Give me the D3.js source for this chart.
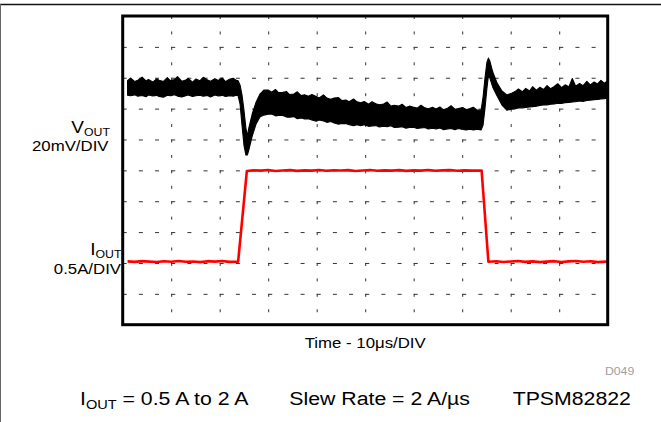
<!DOCTYPE html>
<html>
<head>
<meta charset="utf-8">
<script src="https://cdn.jsdelivr.net/npm/d3@7"></script>
<style>
html,body{margin:0;padding:0;background:#fff;}
svg{display:block;font-family:"Liberation Sans",Arial,Helvetica,sans-serif;}
</style>
</head>
<body>
<svg id="chart" width="661" height="422"></svg>
<script>
// ---- data (time in µs, 10 µs/DIV; VOUT deviation in mV, 20 mV/DIV; IOUT in A, 0.5 A/DIV)
const timeDivs = [0,10,20,30,40,50,60,70,80,90,100];
const levelDivs = [0,1,2,3,4,5,6,7,8,9,10];

const voutT = [
  1,1.6,2.5,3.1,4.0,4.8,5.3,6.2,7.0,7.5,8.4,9.2,9.8,10.7,11.3,12.2,13.0,13.5,14.4,15.1,15.9,16.6,17.5,18.1,19.0,19.7,20.5,21.2,22.0,22.8,23.4,23.8,
  24.2,24.6,25.0,25.4,25.7,26.0,26.7,27.5,28.3,29.1,
  30,30.7,31.5,32.1,33.0,33.8,34.4,35.3,36.0,36.8,37.5,38.3,39.0,39.9,40.5,41.4,42.1,42.9,43.6,44.5,45.2,46.0,46.7,47.6,48.3,49.1,49.8,50.7,51.4,52.2,52.9,53.8,54.5,55.3,56.0,56.9,57.6,58.4,59.1,60.0,60.7,61.5,62.3,63.0,63.9,64.6,65.4,66.1,67.0,67.7,68.5,69.2,70.1,70.8,71.6,72.3,73.1,73.9,
  74.3,74.7,75.1,75.4,75.7,76.3,77.2,78.2,79.2,80.3,
  81,81.6,82.4,83.1,83.9,84.5,85.3,86.0,86.8,87.5,88.2,89.0,89.7,90.5,91.2,92.0,92.7,93.4,94.2,94.9,95.7,96.4,97.2,97.9,98.6,99.3,99.8
];
const voutHi = [
  4.8,6.5,4.2,5.0,7.1,4.6,5.5,3.9,6.0,5.1,4.3,6.8,4.9,5.6,7.4,4.4,5.2,6.3,3.8,5.9,4.7,7.0,5.3,4.5,6.1,4.9,6.6,4.2,5.7,6.4,5.0,4.8,
  1.9,-4.5,-14.3,-25.9,-31.1,-25.9,-16.8,-9.1,-3.9,-1.3,
  -1.2,-2.6,-0.9,-2.9,-2.8,-2.3,-4.2,-3.8,-2.4,-4.9,-4.3,-5.3,-4.2,-5.4,-6.4,-4.4,-6.5,-7.3,-6.4,-6.2,-8.1,-7.7,-8.9,-7.1,-8.9,-9.5,-8.7,-10.4,-8.8,-10.1,-10.8,-10.3,-9.0,-11.7,-11.2,-11.7,-10.5,-12.6,-11.7,-12.4,-13.0,-11.1,-12.8,-13.4,-12.5,-13.5,-12.2,-14.0,-13.1,-11.4,-13.7,-13.3,-12.6,-14.0,-13.3,-12.4,-14.3,-14.3,
  -5.8,6.5,16.8,19.4,17.5,10.4,3.2,-1.9,-4.5,-3.2,
  -2.0,-0.6,-2.4,-0.2,-1.9,0.9,-1.4,0.5,-0.9,1.6,-0.4,1.0,2.8,0.3,2.1,0.8,6.2,1.2,3.0,1.5,4.4,2.0,3.9,2.7,5.0,3.2,4.3
];
const voutLo = [
  -4.6,-5.0,-4.4,-5.3,-4.8,-5.6,-4.5,-5.1,-4.7,-5.4,-5.9,-4.6,-5.0,-4.3,-5.2,-5.7,-4.9,-4.4,-5.5,-5.0,-4.6,-5.3,-4.8,-5.8,-4.5,-5.1,-4.7,-5.4,-4.9,-5.2,-4.6,-5.0,
  -10.4,-24.0,-36.9,-43.4,-43.4,-40.2,-31.1,-23.3,-18.8,-17.5,
  -17.0,-16.8,-18.0,-17.7,-17.8,-18.8,-18.9,-18.5,-19.9,-19.4,-20.0,-19.8,-20.7,-21.5,-20.7,-21.3,-22.2,-21.7,-22.6,-23.4,-23.0,-22.9,-23.7,-24.4,-23.7,-24.4,-23.7,-24.8,-24.6,-24.3,-25.2,-24.7,-25.1,-24.4,-25.5,-25.4,-25.1,-26.0,-25.5,-25.3,-26.1,-25.9,-25.5,-26.5,-26.0,-26.5,-25.9,-26.9,-26.5,-26.2,-26.9,-26.2,-26.8,-27.2,-26.6,-27.1,-26.6,-27.2,
  -24.0,-13.0,0,7.8,6.5,0.6,-5.2,-11.0,-14.3,-13.6,
  -13.3,-12.9,-12.8,-12.5,-12.3,-12.0,-11.8,-11.2,-11.0,-10.9,-10.5,-10.3,-9.8,-9.9,-9.4,-9.3,-9.0,-8.9,-8.4,-8.6,-8.0,-7.8,-7.5,-7.4,-7.0,-6.9,-6.6
];

const ioutT = [
  1,2.5,4,5.5,7,8.5,10,11.5,13,14.5,16,17.5,19,20.5,22,23.8,
  25.6,27,28.5,30,31.5,33,34.5,36,37.5,39,40.5,42,43.5,45,46.5,48,49.5,51,52.5,54,55.5,57,58.5,60,61.5,63,64.5,66,67.5,69,70.5,72,74.0,
  75.4,77,78.5,80,81.5,83,84.5,86,87.5,89,90.5,92,93.5,95,96.5,98,99.8
];
const ioutA = [
  0.525,0.518,0.53,0.522,0.515,0.527,0.52,0.532,0.519,0.524,0.514,0.529,0.521,0.533,0.518,0.52,
  1.99,2.0,1.995,2.005,1.99,1.998,2.004,1.992,2.0,1.996,2.006,1.993,2.0,1.997,2.003,1.99,1.998,2.005,1.994,2.0,1.996,2.004,1.992,2.0,1.995,2.006,1.993,1.999,2.003,1.994,2.0,1.996,1.998,
  0.52,0.528,0.515,0.524,0.531,0.518,0.526,0.513,0.522,0.529,0.516,0.525,0.532,0.519,0.527,0.514,0.521
];

const voutLabel = ["V","OUT","20mV/DIV"];
const ioutLabel = ["I","OUT","0.5A/DIV"];
const xLabel = "Time - 10\u03bcs/DIV";
const figId = "D049";
const footer = [["I","OUT"," = 0.5 A to 2 A"],["Slew Rate = 2 A/\u00b5s"],["TPSM82822"]];

// ---- layout
const L = 122.7, R = 607.7, T = 16, B = 324.7;
const SX = 1.12; // horizontal text stretch

const svg = d3.select("#chart");

const x = d3.scaleLinear().domain([0,100]).range([L,R]);
const yDiv = d3.scaleLinear().domain([0,10]).range([B,T]);
const yV = d3.scaleLinear().domain([-153.3,46.7]).range([B,T]);
const yI = d3.scaleLinear().domain([-0.5,4.5]).range([B,T]);

// page border
svg.append("line").attr("x1",0).attr("x2",661).attr("y1",4.5).attr("y2",4.5)
  .attr("stroke","#111").attr("stroke-width",1.4);
svg.append("line").attr("x1",0.5).attr("x2",0.5).attr("y1",4).attr("y2",422)
  .attr("stroke","#666").attr("stroke-width",1);

// grid
const gridV = svg.append("g").attr("transform",`translate(0,${T})`)
  .call(d3.axisBottom(x).tickValues(timeDivs.slice(1,-1)).tickSize(B-T).tickFormat(""));
gridV.select(".domain").remove();
gridV.selectAll("line").attr("stroke","#333").attr("stroke-width",1)
  .attr("stroke-dasharray","3,12.435");

const gridH = svg.append("g").attr("transform",`translate(${L},0)`)
  .call(d3.axisRight(yDiv).tickValues(levelDivs.slice(1,-1)).tickSize(R-L).tickFormat(""));
gridH.select(".domain").remove();
gridH.selectAll("line").attr("stroke","#333").attr("stroke-width",1)
  .attr("stroke-dasharray","4,12.17");

// VOUT trace (noisy band as envelope)
const vData = voutT.map((t,i)=>({t, hi:voutHi[i], lo:voutLo[i]}));
svg.append("path").datum(vData)
  .attr("d", d3.area().x(d=>x(d.t)).y0(d=>yV(d.lo)).y1(d=>yV(d.hi)))
  .attr("fill","#000").attr("stroke","#000").attr("stroke-width",1.1).attr("stroke-linejoin","round");

// IOUT trace
const iData = ioutT.map((t,i)=>({t, a:ioutA[i]}));
svg.append("path").datum(iData)
  .attr("d", d3.line().x(d=>x(d.t)).y(d=>yI(d.a)))
  .attr("fill","none").attr("stroke","#ff0000").attr("stroke-width",2.6).attr("stroke-linejoin","round");

// frame
svg.append("rect").attr("x",L).attr("y",T).attr("width",R-L).attr("height",B-T)
  .attr("fill","none").attr("stroke","#000").attr("stroke-width",3);

// helper for stretched text
function txt(xp, yp, anchor, size, color){
  const g = svg.append("g").attr("transform",`translate(${xp},${yp}) scale(${SX},1)`);
  return g.append("text").attr("x",0).attr("y",0).attr("text-anchor",anchor)
    .attr("font-size",size).attr("fill",color||"#000");
}

// VOUT label
let t1 = txt(110, 133, "end", 17);
t1.append("tspan").text(voutLabel[0]);
t1.append("tspan").attr("font-size",11).attr("dy",3).text(voutLabel[1]);
txt(108.5, 150.7, "end", 15).text(voutLabel[2]);

// IOUT label
let t2 = txt(121.5, 254.5, "end", 17);
t2.append("tspan").text(ioutLabel[0]);
t2.append("tspan").attr("font-size",11).attr("dy",3).text(ioutLabel[1]);
txt(121, 274, "end", 15).text(ioutLabel[2]);

// x label
txt((L+R)/2, 348.3, "middle", 15).text(xLabel);

// figure id
txt(634.3, 375, "end", 11, "#a0a0a0").text(figId);

// footer
let f1 = txt(80, 405, "start", 19);
f1.append("tspan").text(footer[0][0]);
f1.append("tspan").attr("font-size",13).attr("dy",4).text(footer[0][1]);
f1.append("tspan").attr("dy",-4).text(footer[0][2]);
txt(289.3, 405, "start", 19).text(footer[1][0]);
txt(512.7, 405, "start", 19).text(footer[2][0]);
</script>
</body>
</html>
